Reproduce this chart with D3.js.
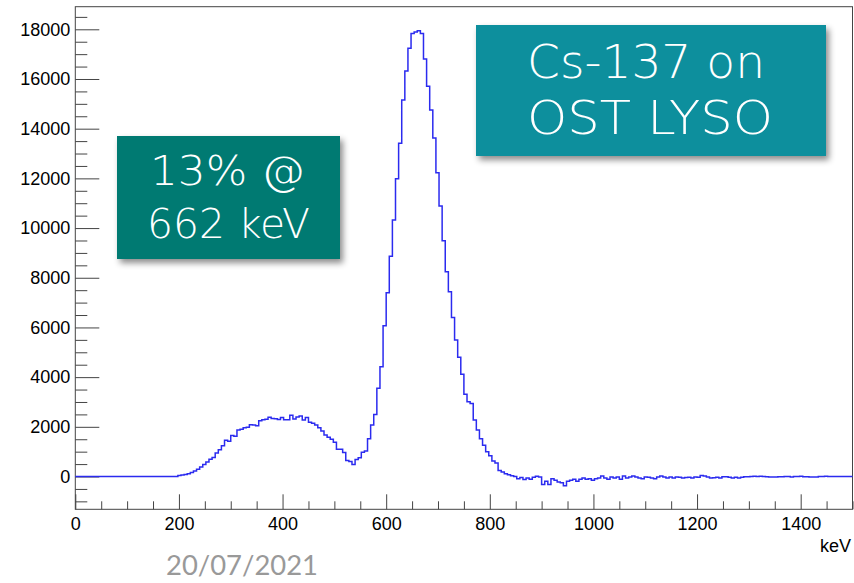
<!DOCTYPE html>
<html>
<head>
<meta charset="utf-8">
<script src="https://cdn.jsdelivr.net/npm/d3@7"></script>
<style>
  body { margin: 0; background: #fff; }
  svg { display: block; }
</style>
</head>
<body>
<div id="container"></div>
<script>
// Cs-137 spectrum, 250 bins of 6 keV from 0 to 1500 keV
const binWidth = 6
const counts = [
  0,0,0,0,0,0,0,0,0,0,
  0,0,0,0,0,0,0,0,0,0,
  0,0,0,0,0,0,0,0,0,0,
  0,0,0,40,60,80,110,160,220,290,
  380,480,580,690,760,950,1080,1240,1460,1420,
  1650,1620,1870,1900,1960,1980,2080,2070,2040,2240,
  2280,2300,2390,2330,2320,2290,2380,2280,2280,2470,
  2310,2400,2440,2270,2380,2180,2140,2070,1960,1830,
  1670,1580,1500,1380,1100,1100,970,640,600,480,
  680,750,980,1030,1520,2070,2500,3550,4420,6070,
  7400,8870,10320,11980,13410,15150,16320,17240,17830,17890,
  17940,17830,16800,15710,14750,13630,12230,10890,9490,8240,
  7440,6400,5490,4800,4120,3310,3010,2940,2270,1870,
  1520,1260,1000,840,620,540,240,180,110,70,
  30,0,-90,-40,-120,-60,-110,-30,10,-20,
  -320,-190,-320,-90,-150,-220,-250,-370,-190,-150,
  -110,-190,-110,-60,-110,-90,-150,-90,-60,20,
  -60,-110,-20,-60,-20,-110,20,-60,-20,20,
  -20,-60,-90,-20,-30,-60,-90,-20,20,-20,
  -60,-20,-60,-20,-30,-60,-40,-30,-60,-20,
  -30,40,20,-20,-60,-50,-30,-60,-10,-10,
  -30,-60,-30,-60,-30,-10,-10,0,10,5,
  10,0,-10,-15,-20,-20,-10,-5,5,0,
  -20,5,0,10,-10,-5,-20,-20,-20,5,
  5,10,5,5,5,5,5,5,5,5
]
const xRange = [0, 1500]
const yRange = [-1320, 18910]
const xMajor = [0, 200, 400, 600, 800, 1000, 1200, 1400]
const yMajor = [0, 2000, 4000, 6000, 8000, 10000, 12000, 14000, 16000, 18000]
const xTitle = "keV"
const resBox = ["13% @", "662 keV"]
const srcBox = ["Cs-137 on", "OST LYSO"]
const dateText = "20/07/2021"

const width = 854, height = 583
const frame = { left: 75.3, right: 852.5, top: 6.7, bottom: 509.3 }
const tickFont = "'Liberation Sans', Arial, Helvetica, sans-serif"

let x = d3.scaleLinear().domain(xRange).range([frame.left, frame.right])
let y = d3.scaleLinear().domain(yRange).range([frame.bottom, frame.top])

let svg = d3.select("#container").append("svg")
    .attr("width", width)
    .attr("height", height)

let defs = svg.append("defs")
let shadow = defs.append("filter")
    .attr("id", "shadow")
    .attr("x", "-10%").attr("y", "-10%")
    .attr("width", "130%").attr("height", "140%")
shadow.append("feDropShadow")
    .attr("dx", 3).attr("dy", 4)
    .attr("stdDeviation", 3)
    .attr("flood-color", "#000")
    .attr("flood-opacity", 0.45)

// minor ticks every 50 keV / 500 counts
let xMinor = d3.range(xRange[0], xRange[1] + 1, 50).filter(v => v % 200 != 0)
let yMinor = d3.range(-1000, 18901, 500).filter(v => v % 2000 != 0)

svg.append("g")
    .attr("transform", `translate(0,${frame.bottom})`)
    .call(d3.axisBottom(x).tickValues(xMinor).tickSizeInner(-8).tickSizeOuter(0).tickFormat(""))
    .call(g => g.select(".domain").remove())
svg.append("g")
    .attr("class", "x-axis")
    .attr("transform", `translate(0,${frame.bottom})`)
    .call(d3.axisBottom(x).tickValues(xMajor).tickSizeInner(-15).tickSizeOuter(0).tickPadding(8).tickFormat(d3.format("d")))
    .call(g => g.select(".domain").remove())

svg.append("g")
    .attr("transform", `translate(${frame.left},0)`)
    .call(d3.axisLeft(y).tickValues(yMinor).tickSizeInner(-12).tickSizeOuter(0).tickFormat(""))
    .call(g => g.select(".domain").remove())
svg.append("g")
    .attr("class", "y-axis")
    .attr("transform", `translate(${frame.left},0)`)
    .call(d3.axisLeft(y).tickValues(yMajor).tickSizeInner(-24).tickSizeOuter(0).tickPadding(5).tickFormat(d3.format("d")))
    .call(g => g.select(".domain").remove())

svg.selectAll(".tick line").attr("stroke", "#444").attr("stroke-width", 1)
svg.selectAll(".tick text")
    .attr("font-family", tickFont)
    .attr("font-size", 18)
    .attr("fill", "#000")

svg.append("rect")
    .attr("x", frame.left).attr("y", frame.top)
    .attr("width", frame.right - frame.left)
    .attr("height", frame.bottom - frame.top)
    .attr("fill", "none")
    .attr("stroke", "#444")
    .attr("stroke-width", 1)

svg.append("text")
    .attr("x", 851).attr("y", 551.5)
    .attr("text-anchor", "end")
    .attr("font-family", tickFont)
    .attr("font-size", 18)
    .text(xTitle)

// histogram as steps over the bin edges
const data = counts.map((c, i) => ({ x: i * binWidth, y: c }))
data.push({ x: counts.length * binWidth, y: counts[counts.length - 1] })
let line = d3.line()
    .x(d => x(d.x))
    .y(d => y(d.y))
    .curve(d3.curveStepAfter)

svg.append("path")
    .datum(data)
    .attr("class", "line")
    .attr("fill", "none")
    .attr("stroke", "#2b2bef")
    .attr("stroke-width", 1.5)
    .attr("d", line)

function textBox(lines, box, fill, fontSize, rows) {
    svg.append("rect")
        .attr("x", box.x).attr("y", box.y)
        .attr("width", box.w).attr("height", box.h)
        .attr("fill", fill)
        .attr("filter", "url(#shadow)")
    lines.forEach((t, i) => {
        svg.append("text")
            .attr("x", rows[i].x).attr("y", rows[i].y)
            .attr("font-family", "'DejaVu Sans', sans-serif")
            .attr("font-weight", 200)
            .attr("font-size", fontSize)
            .attr("fill", "#fff")
            .attr("textLength", rows[i].len)
            .attr("lengthAdjust", "spacingAndGlyphs")
            .text(t)
    })
}

textBox(resBox, { x: 117, y: 136, w: 223, h: 123 }, "#067a72", 40,
    [{ x: 150, y: 185, len: 155 }, { x: 147, y: 238, len: 163 }])
textBox(srcBox, { x: 476, y: 25, w: 350, h: 131 }, "#098f9d", 47,
    [{ x: 527, y: 78, len: 238 }, { x: 527, y: 134, len: 246 }])

svg.append("text")
    .attr("x", 166).attr("y", 575)
    .attr("font-family", "Lato, 'Open Sans', sans-serif")
    .attr("font-size", 27)
    .attr("fill", "#999")
    .attr("textLength", 152)
    .attr("lengthAdjust", "spacingAndGlyphs")
    .text(dateText)
</script>
</body>
</html>
